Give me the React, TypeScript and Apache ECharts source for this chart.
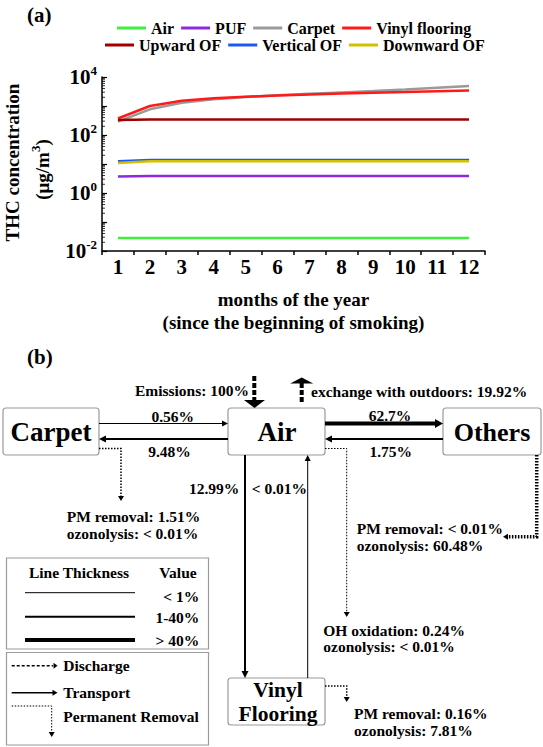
import React, { useEffect, useRef } from 'react';
import * as echarts from 'echarts';

const FONT = "'Liberation Serif', 'Times New Roman', 'DejaVu Serif', serif";

// ---------- panel (a) data ----------
const months = ['1', '2', '3', '4', '5', '6', '7', '8', '9', '10', '11', '12'];
const seriesNames = ['Air', 'PUF', 'Carpet', 'Vinyl flooring', 'Upward OF', 'Vertical OF', 'Downward OF'];
const seriesColors = ['#3cf03c', '#8a2be2', '#9a9a9a', '#ff1a1a', '#a00000', '#1f5af0', '#d2c000'];
const airConc = [0.028, 0.028, 0.028, 0.028, 0.028, 0.028, 0.028, 0.028, 0.028, 0.028, 0.028, 0.028];
const pufConc = [3.7, 3.85, 3.85, 3.85, 3.85, 3.85, 3.85, 3.85, 3.85, 3.85, 3.85, 3.85];
const carpetConc = [290, 770, 1290, 1700, 2050, 2340, 2630, 2950, 3310, 3720, 4270, 4900];
const vinylConc = [370, 1000, 1510, 1840, 2090, 2290, 2480, 2690, 2880, 3050, 3240, 3390];
const upwardConc = [330, 345, 345, 345, 345, 345, 345, 345, 345, 345, 345, 345];
const verticalConc = [12.5, 13.8, 13.8, 13.8, 13.8, 13.8, 13.8, 13.8, 13.8, 13.8, 13.8, 13.8];
const downwardConc = [10.8, 12.5, 12.5, 12.5, 12.5, 12.5, 12.5, 12.5, 12.5, 12.5, 12.5, 12.5];
const seriesValues = [airConc, pufConc, carpetConc, vinylConc, upwardConc, verticalConc, downwardConc];
const legendRow1 = ['Air', 'PUF', 'Carpet', 'Vinyl flooring'];
const legendRow2 = ['Upward OF', 'Vertical OF', 'Downward OF'];
// log-axis minor tick positions (2..9 x each decade)
const minorTickValues = [
  0.02, 0.03, 0.04, 0.05, 0.06, 0.07, 0.08, 0.09,
  0.2, 0.3, 0.4, 0.5, 0.6, 0.7, 0.8, 0.9,
  2, 3, 4, 5, 6, 7, 8, 9,
  20, 30, 40, 50, 60, 70, 80, 90,
  200, 300, 400, 500, 600, 700, 800, 900,
  2000, 3000, 4000, 5000, 6000, 7000, 8000, 9000,
];
const xAxisTitle = 'months of the year\n(since the beginning of smoking)';
const yAxisTitle = 'THC concentration';

// ---------- panel (b) labels ----------
const carpetToAir = '0.56%';
const airToCarpet = '9.48%';
const airToOthers = '62.7%';
const othersToAir = '1.75%';
const airToVinyl = '12.99%';
const vinylToAir = '< 0.01%';
const emissionsLabel = 'Emissions: 100%';
const exchangeLabel = 'exchange with outdoors: 19.92%';
const carpetRemoval = ['PM removal: 1.51%', 'ozonolysis: < 0.01%'];
const othersRemoval = ['PM removal: < 0.01%', 'ozonolysis: 60.48%'];
const airRemoval = ['OH oxidation: 0.24%', 'ozonolysis: < 0.01%'];
const vinylRemoval = ['PM removal: 0.16%', 'ozonolysis: 7.81%'];
const thicknessLabels = ['< 1%', '1-40%', '> 40%'];
const styleLabels = ['Discharge', 'Transport', 'Permanent Removal'];

const BLACK = '#000';

function T(text: string, x: number, y: number, align = 'left', size = 15.5) {
  return {
    type: 'text', x, y, silent: true,
    style: { text, fill: BLACK, fontFamily: FONT, fontWeight: 'bold', fontSize: size, align, verticalAlign: 'middle' },
  };
}
function L(x1: number, y1: number, x2: number, y2: number, w: number, dash?: number[]) {
  const style: any = { stroke: BLACK, lineWidth: w };
  if (dash) style.lineDash = dash;
  return { type: 'line', silent: true, shape: { x1, y1, x2, y2 }, style };
}
function P(points: number[][], w: number, dash?: number[]) {
  const style: any = { stroke: BLACK, lineWidth: w, fill: null };
  if (dash) style.lineDash = dash;
  return { type: 'polyline', silent: true, shape: { points }, style };
}
function H(x: number, y: number, dir: string, len: number, half: number) {
  let pts: number[][];
  if (dir === 'right') pts = [[x, y], [x - len, y - half], [x - len, y + half]];
  else if (dir === 'left') pts = [[x, y], [x + len, y - half], [x + len, y + half]];
  else if (dir === 'down') pts = [[x, y], [x - half, y - len], [x + half, y - len]];
  else pts = [[x, y], [x - half, y + len], [x + half, y + len]];
  return { type: 'polygon', silent: true, shape: { points: pts }, style: { fill: BLACK } };
}
function B(x: number, y: number, w: number, h: number, r = 3) {
  return { type: 'rect', silent: true, shape: { x, y, width: w, height: h, r }, style: { stroke: '#9a9a9a', lineWidth: 1.2, fill: '#fff' } };
}

function buildGraphics() {
  const dot = [1.5, 1.5];
  const dash = [5, 2];
  return [
    T('(a)', 27, 15, 'left', 21),
    T('(b)', 27, 357, 'left', 21),
    // y-axis title (rotated)
    {
      type: 'text', x: 12, y: 162.5, rotation: Math.PI / 2, silent: true,
      style: { text: yAxisTitle, fill: BLACK, fontFamily: FONT, fontWeight: 'bold', fontSize: 19, align: 'center', verticalAlign: 'middle' },
    },
    {
      type: 'text', x: 38, y: 169.5, rotation: Math.PI / 2, silent: true,
      style: {
        text: '{n|(μg/m}{s|3}{n|)}', fill: BLACK, fontFamily: FONT, fontWeight: 'bold', fontSize: 19,
        align: 'center', verticalAlign: 'middle',
        rich: {
          n: { fill: BLACK, fontFamily: FONT, fontWeight: 'bold', fontSize: 19, lineHeight: 19, padding: [8, 0, 0, 0] },
          s: { fill: BLACK, fontFamily: FONT, fontWeight: 'bold', fontSize: 13, lineHeight: 13, verticalAlign: 'top' },
        },
      },
    },
    // boxes
    B(3, 408, 96, 47), B(228, 408, 97, 47), B(443, 408, 98, 47), B(228, 678, 97, 47),
    T('Carpet', 51, 432, 'center', 27),
    T('Air', 277, 432, 'center', 27),
    T('Others', 492, 432, 'center', 26),
    T('Vinyl', 278, 690, 'center', 21.5),
    T('Flooring', 278, 714, 'center', 21.5),
    // transport arrows
    L(99, 423.5, 222, 423.5, 1), H(228, 423.5, 'right', 6, 3),
    L(228, 439, 106, 439, 2), H(99, 439, 'left', 7, 3.5),
    L(325, 423.5, 435, 423.5, 4), H(443, 423.5, 'right', 8, 4.5),
    L(443, 439, 332, 439, 2), H(325, 439, 'left', 7, 3.5),
    L(245, 455, 245, 671, 2), H(245, 678, 'down', 7, 3.5),
    L(307.7, 678, 307.7, 461, 1), H(307.7, 455, 'up', 6, 3),
    // discharge arrows
    L(254.3, 376, 254.3, 400, 4, dash), H(254.5, 408, 'down', 8, 10.5),
    L(301.7, 402, 301.7, 383, 4, dash), H(301.7, 377.5, 'up', 6, 11.5),
    // permanent removal
    P([[99, 448.5], [121, 448.5], [121, 496]], 1.5, dot), H(121, 501, 'down', 5, 3),
    P([[325, 448.5], [346.7, 448.5], [346.7, 612]], 1, dot), H(346.7, 617, 'down', 5, 3),
    P([[536.7, 455], [536.7, 536.7], [508, 536.7]], 3.5, dot), H(503, 536.7, 'left', 5, 3),
    P([[325, 686], [346.7, 686], [346.7, 697]], 1.5, dot), H(346.7, 702, 'down', 5, 3),
    // labels
    T(carpetToAir, 172.8, 416, 'center'),
    T(airToCarpet, 169.5, 451.7, 'center'),
    T(airToOthers, 390, 415, 'center'),
    T(othersToAir, 390.7, 451, 'center'),
    T(emissionsLabel, 249, 390, 'right'),
    T(exchangeLabel, 311, 391.7, 'left'),
    T(airToVinyl, 239.3, 488.3, 'right'),
    T(vinylToAir, 251.7, 488.3, 'left'),
    T(carpetRemoval[0], 66.7, 516.7), T(carpetRemoval[1], 66.7, 533.3),
    T(othersRemoval[0], 356.7, 528.5), T(othersRemoval[1], 356.7, 545.5),
    T(airRemoval[0], 323.3, 630), T(airRemoval[1], 323.3, 646.7),
    T(vinylRemoval[0], 354, 713.3), T(vinylRemoval[1], 354, 730),
    // legend box 1
    B(6.5, 558, 202, 91, 0),
    T('Line Thickness', 79, 572.7, 'center'),
    T('Value', 178, 572.7, 'center'),
    L(25, 592.7, 135, 592.7, 1), L(25, 616.7, 135, 616.7, 2), L(25, 640, 135, 640, 4),
    T(thicknessLabels[0], 199.3, 596, 'right'),
    T(thicknessLabels[1], 199.3, 617.7, 'right'),
    T(thicknessLabels[2], 199.3, 640.7, 'right'),
    // legend box 2
    B(6.5, 652.5, 202, 92.5, 0),
    L(11.7, 665.7, 53, 665.7, 1.5, [3, 2]), H(57.5, 665.7, 'right', 4, 3),
    L(11.7, 692.7, 53, 692.7, 1.5), H(57.5, 692.7, 'right', 5, 3),
    P([[11.7, 706], [51.7, 706], [51.7, 732]], 1, dot), H(51.7, 737, 'down', 5, 3),
    T(styleLabels[0], 63.3, 665.7),
    T(styleLabels[1], 63.3, 692.7),
    T(styleLabels[2], 63.3, 716.7),
  ];
}

export default function App() {
  const ref = useRef<HTMLDivElement>(null);
  useEffect(() => {
    if (!ref.current) return;
    const chart = echarts.init(ref.current, null, { renderer: 'svg' });
    const legendText = { fontFamily: FONT, fontWeight: 'bold', fontSize: 16, color: BLACK };
    const lineSeries = seriesNames.map((name, i) => ({
      name,
      type: 'line',
      data: seriesValues[i],
      showSymbol: false,
      symbol: 'none',
      color: seriesColors[i],
      lineStyle: { width: 2.5, color: seriesColors[i] },
    }));
    const minorTickSeries = {
      name: 'minor ticks',
      type: 'custom',
      silent: true,
      z: 10,
      data: minorTickValues.map((v) => [0, v]),
      encode: { x: 0, y: 1 },
      renderItem: (params: any, api: any) => {
        const y = api.coord([0, api.value(1)])[1];
        const x0 = params.coordSys.x;
        return {
          type: 'line',
          shape: { x1: x0, y1: y, x2: x0 + 3, y2: y },
          style: { stroke: BLACK, lineWidth: 0.8 },
        };
      },
    };
    const option: any = {
      animation: false,
      backgroundColor: '#fff',
      textStyle: { fontFamily: FONT },
      legend: [
        { data: legendRow1, left: 117, top: 20, icon: 'rect', itemWidth: 29, itemHeight: 3, itemGap: 7, textStyle: legendText, padding: 0 },
        { data: legendRow2, left: 105, top: 37, icon: 'rect', itemWidth: 29, itemHeight: 3, itemGap: 7, textStyle: legendText, padding: 0 },
      ],
      grid: { left: 102, right: 58, top: 77, bottom: 496, containLabel: false, outerBoundsMode: 'none' },
      xAxis: {
        type: 'category',
        data: months,
        boundaryGap: true,
        name: xAxisTitle,
        nameLocation: 'middle',
        nameGap: 37,
        nameTextStyle: { fontFamily: FONT, fontWeight: 'bold', fontSize: 19, lineHeight: 23, color: BLACK },
        axisLine: { lineStyle: { color: BLACK, width: 1.5 } },
        axisTick: { show: true, length: 4, lineStyle: { color: BLACK, width: 1.5 } },
        axisLabel: { fontFamily: FONT, fontWeight: 'bold', fontSize: 21, color: BLACK, margin: 5 },
        splitLine: { show: false },
      },
      yAxis: {
        type: 'log',
        logBase: 10,
        min: 0.01,
        max: 10000,
        axisLine: { show: true, lineStyle: { color: BLACK, width: 1.5 } },
        axisTick: { show: true, inside: true, length: 5, lineStyle: { color: BLACK, width: 1.2 } },
        minorTick: { show: false },
        splitLine: { show: false },
        minorSplitLine: { show: false },
        axisLabel: {
          margin: 5,
          formatter: (v: number) => {
            const e = Math.round(Math.log10(v));
            if (e % 2 !== 0) return '';
            return '{b|10}{s|' + e + '}';
          },
          rich: {
            b: { fontFamily: FONT, fontWeight: 'bold', fontSize: 21, color: BLACK, lineHeight: 26 },
            s: { fontFamily: FONT, fontWeight: 'bold', fontSize: 13, color: BLACK, verticalAlign: 'top', lineHeight: 14 },
          },
        },
      },
      series: [...lineSeries, minorTickSeries],
      graphic: buildGraphics(),
    };
    chart.setOption(option);
    return () => chart.dispose();
  }, []);
  return (
    <div
      ref={ref}
      style={{ position: 'absolute', left: 0, top: 0, width: 543, height: 747, background: '#fff' }}
    />
  );
}
